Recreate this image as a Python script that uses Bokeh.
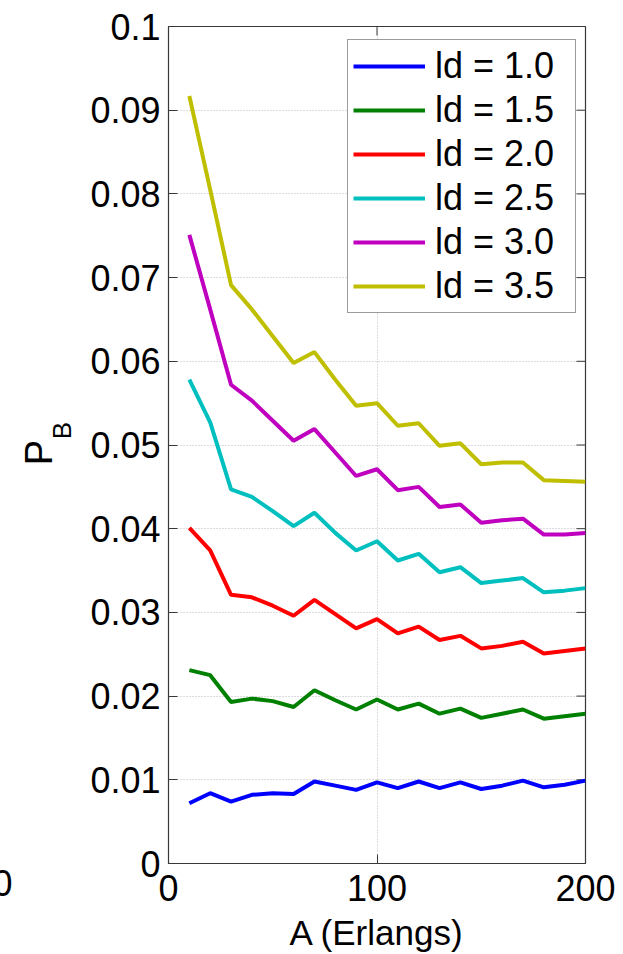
import math
from bokeh.plotting import figure
from bokeh.layouts import row
from bokeh.models import Range1d, FixedTicker, Legend, LegendItem, Title
from bokeh.core.properties import value
from bokeh.embed import file_html
from bokeh.resources import INLINE

# ---- data ----
A = [10, 20, 30, 40, 50, 60, 70, 80, 90, 100, 110, 120, 130, 140, 150, 160, 170, 180, 190, 200]
pb_1_0 = [0.0072, 0.0084, 0.0074, 0.0082, 0.0084, 0.0083, 0.0098, 0.0093, 0.0088, 0.0097,
          0.0090, 0.0098, 0.0090, 0.0097, 0.0089, 0.0093, 0.0099, 0.0091, 0.0094, 0.0099]
pb_1_5 = [0.0231, 0.0225, 0.0193, 0.0197, 0.0194, 0.0187, 0.0207, 0.0195, 0.0184, 0.0196,
          0.0184, 0.0191, 0.0179, 0.0185, 0.0174, 0.0179, 0.0184, 0.0173, 0.0176, 0.0179]
pb_2_0 = [0.0401, 0.0374, 0.0321, 0.0318, 0.0308, 0.0296, 0.0315, 0.0298, 0.0281, 0.0292,
          0.0275, 0.0283, 0.0267, 0.0272, 0.0257, 0.0260, 0.0265, 0.0251, 0.0254, 0.0257]
pb_2_5 = [0.0578, 0.0527, 0.0447, 0.0438, 0.0421, 0.0403, 0.0419, 0.0395, 0.0374, 0.0385,
          0.0362, 0.0370, 0.0348, 0.0354, 0.0335, 0.0338, 0.0341, 0.0324, 0.0326, 0.0329]
pb_3_0 = [0.0751, 0.0662, 0.0572, 0.0553, 0.0529, 0.0505, 0.0519, 0.0491, 0.0463, 0.0471,
          0.0446, 0.0450, 0.0426, 0.0429, 0.0407, 0.0410, 0.0412, 0.0393, 0.0393, 0.0395]
pb_3_5 = [0.0917, 0.0805, 0.0691, 0.0662, 0.0630, 0.0598, 0.0611, 0.0578, 0.0547, 0.0550,
          0.0523, 0.0526, 0.0499, 0.0502, 0.0477, 0.0479, 0.0479, 0.0458, 0.0457, 0.0456]
series = [pb_1_0, pb_1_5, pb_2_0, pb_2_5, pb_3_0, pb_3_5]
series_names = ["ld = 1.0", "ld = 1.5", "ld = 2.0", "ld = 2.5", "ld = 3.0", "ld = 3.5"]
colors = ["#0000FF", "#008000", "#FF0000", "#00BFBF", "#BF00BF", "#BFBF00"]

x_ticks = [0, 100, 200]
y_ticks = [0, 0.01, 0.02, 0.03, 0.04, 0.05, 0.06, 0.07, 0.08, 0.09, 0.1]
y_tick_labels = ["0", "0.01", "0.02", "0.03", "0.04", "0.05", "0.06", "0.07", "0.08", "0.09", "0.1"]
x_label = "A (Erlangs)"
y_label_main = "P"
y_label_sub = "B"
neighbour_tick_label = "0"   # tick label of a neighbouring panel, cut by the left edge

FONT = "Liberation Sans"
AXC = "#383838"
STRIP_W = 80
TOP, BOTTOM = 26, 91
FRAME_H = 954 - TOP - BOTTOM

# ---------------- main plot ----------------
p = figure(width=623 - STRIP_W, height=954, output_backend="svg", toolbar_location=None,
           x_range=Range1d(x_ticks[0], x_ticks[-1]), y_range=Range1d(y_ticks[0], y_ticks[-1]),
           min_border_left=168 - STRIP_W, min_border_right=38, min_border_top=TOP,
           min_border_bottom=BOTTOM)
p.background_fill_color = "white"
p.border_fill_color = "white"
p.outline_line_color = AXC
p.outline_line_width = 1.2

for ax in (p.xaxis[0], p.yaxis[0]):
    ax.major_tick_in = 9
    ax.major_tick_out = 0
    ax.minor_tick_line_color = None
    ax.axis_line_color = AXC
    ax.major_tick_line_color = AXC
    ax.major_label_text_font = FONT
    ax.major_label_text_font_size = "36px"
    ax.major_label_text_color = "black"

p.xaxis[0].ticker = FixedTicker(ticks=x_ticks)
p.yaxis[0].ticker = FixedTicker(ticks=y_ticks)
p.yaxis[0].major_label_overrides = {t: s for t, s in zip(y_ticks, y_tick_labels)}
p.yaxis[0].major_label_standoff = 8
p.xaxis[0].major_label_standoff = 11
p.xaxis[0].axis_label = x_label
p.xaxis[0].axis_label_text_font = FONT
p.xaxis[0].axis_label_text_font_size = "35px"
p.xaxis[0].axis_label_text_font_style = "normal"
p.xaxis[0].axis_label_text_color = "black"
p.xaxis[0].axis_label_standoff = 9

# grid
for g in (p.xgrid[0], p.ygrid[0]):
    g.grid_line_color = "#b8b8b8"
    g.grid_line_dash = "1 2"
    g.grid_line_width = 1
p.xgrid[0].ticker = FixedTicker(ticks=x_ticks)
p.ygrid[0].ticker = FixedTicker(ticks=y_ticks)

# mirrored inward ticks on the right and top edges (half of each dash is clipped by the frame)
p.scatter(x=[x_ticks[-1]] * len(y_ticks), y=y_ticks, marker="dash", size=18,
          line_color=AXC, line_width=1)
p.scatter(x=x_ticks, y=[y_ticks[-1]] * len(x_ticks), marker="dash", size=18, angle=math.pi / 2,
          line_color=AXC, line_width=1)

# lines
items = []
for vals, name, c in zip(series, series_names, colors):
    r = p.line(A, vals, line_color=c, line_width=4)
    items.append(LegendItem(label=name, renderers=[r]))

# legend: bottom-left corner in screen pixels from the frame's bottom-left corner
legend = Legend(items=items, location=(179, FRAME_H + TOP - 313))
legend.padding = 5
legend.spacing = 2
legend.label_height = 40
legend.glyph_height = 40
legend.glyph_width = 72
legend.label_standoff = 10
legend.label_width = 135
legend.label_text_font = FONT
legend.label_text_font_size = "36px"
legend.label_text_color = "black"
legend.border_line_color = AXC
legend.border_line_width = 1.2
legend.background_fill_color = "white"
legend.background_fill_alpha = 1.0
p.add_layout(legend)

# ---------------- left strip: y-axis title P_B and the cut neighbouring tick label ----------------
# the strip's frame is aligned with the main frame (pixel rows TOP .. 954-BOTTOM)
s = figure(width=STRIP_W, height=954, output_backend="svg", toolbar_location=None,
           x_range=Range1d(0, STRIP_W), y_range=Range1d(954 - BOTTOM, TOP),
           x_axis_type=None, y_axis_type=None,
           min_border_left=0, min_border_right=0, min_border_top=TOP, min_border_bottom=BOTTOM)
s.outline_line_color = None
s.grid.visible = False
s.background_fill_color = "white"
s.border_fill_color = "white"
s.add_layout(Title(text=neighbour_tick_label, align="left", offset=-8, standoff=9,
                   text_font=FONT, text_font_size="36px", text_font_style="normal",
                   text_color="black"), "below")

s.text(x=[38], y=[452], text=[y_label_main], angle=math.pi / 2,
       text_align="center", text_baseline="middle",
       text_font=value(FONT), text_font_size="38px", text_color="black")
s.text(x=[61.5], y=[430], text=[y_label_sub], angle=math.pi / 2,
       text_align="center", text_baseline="middle",
       text_font=value(FONT), text_font_size="26px", text_color="black")

layout = row(s, p, spacing=0)
open("out.html", "w").write(file_html(layout, INLINE))
